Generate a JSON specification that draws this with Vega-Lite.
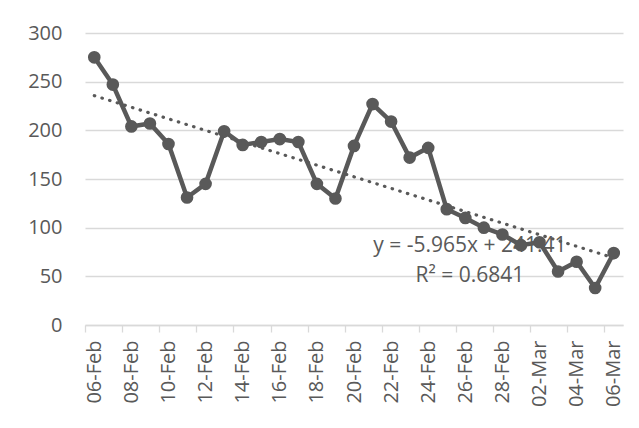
{
  "$schema": "https://vega.github.io/schema/vega-lite/v6.json",
  "width": 538,
  "height": 292,
  "autosize": "none",
  "padding": {"left": 85, "top": 33, "right": 16, "bottom": 103},
  "background": "white",
  "config": {
    "view": {"stroke": null},
    "font": "Open Sans"
  },
  "datasets": {
    "daily": [
      {"day": 1, "date": "06-Feb", "cases": 275},
      {"day": 2, "date": "07-Feb", "cases": 247},
      {"day": 3, "date": "08-Feb", "cases": 204},
      {"day": 4, "date": "09-Feb", "cases": 207},
      {"day": 5, "date": "10-Feb", "cases": 186},
      {"day": 6, "date": "11-Feb", "cases": 131},
      {"day": 7, "date": "12-Feb", "cases": 145},
      {"day": 8, "date": "13-Feb", "cases": 199},
      {"day": 9, "date": "14-Feb", "cases": 185},
      {"day": 10, "date": "15-Feb", "cases": 188},
      {"day": 11, "date": "16-Feb", "cases": 191},
      {"day": 12, "date": "17-Feb", "cases": 188},
      {"day": 13, "date": "18-Feb", "cases": 145},
      {"day": 14, "date": "19-Feb", "cases": 130},
      {"day": 15, "date": "20-Feb", "cases": 184},
      {"day": 16, "date": "21-Feb", "cases": 227},
      {"day": 17, "date": "22-Feb", "cases": 209},
      {"day": 18, "date": "23-Feb", "cases": 172},
      {"day": 19, "date": "24-Feb", "cases": 182},
      {"day": 20, "date": "25-Feb", "cases": 119},
      {"day": 21, "date": "26-Feb", "cases": 110},
      {"day": 22, "date": "27-Feb", "cases": 100},
      {"day": 23, "date": "28-Feb", "cases": 93},
      {"day": 24, "date": "01-Mar", "cases": 82},
      {"day": 25, "date": "02-Mar", "cases": 85},
      {"day": 26, "date": "03-Mar", "cases": 55},
      {"day": 27, "date": "04-Mar", "cases": 65},
      {"day": 28, "date": "05-Mar", "cases": 38},
      {"day": 29, "date": "06-Mar", "cases": 74}
    ],
    "notes": [
      {"day": 21.25, "cases": 81, "label": "y = -5.965x + 241.41"},
      {"day": 21.25, "cases": 50, "label": "R² = 0.6841"}
    ]
  },
  "encoding": {
    "x": {
      "field": "day",
      "type": "quantitative",
      "scale": {"domain": [0.5, 29.5], "nice": false, "zero": false},
      "axis": {
        "title": null,
        "values": [1, 3, 5, 7, 9, 11, 13, 15, 17, 19, 21, 23, 25, 27, 29],
        "labelExpr": "timeFormat(datetime(2021, 1, 5 + datum.value), '%d-%b')",
        "labelAngle": -90,
        "labelAlign": "right",
        "labelBaseline": "middle",
        "labelFontSize": 20,
        "labelColor": "#595959",
        "labelPadding": 8,
        "labelOffset": 9.28,
        "tickOffset": -9.28,
        "tickSize": 7,
        "tickColor": "#d9d9d9",
        "tickWidth": 1.3,
        "domainColor": "#d9d9d9",
        "domainWidth": 1.3,
        "grid": false,
        "labelFlush": false,
        "labelOverlap": false
      }
    },
    "y": {
      "field": "cases",
      "type": "quantitative",
      "scale": {"domain": [0, 300], "nice": false},
      "axis": {
        "title": null,
        "values": [0, 50, 100, 150, 200, 250, 300],
        "ticks": false,
        "domain": false,
        "labelFontSize": 20,
        "labelColor": "#595959",
        "labelPadding": 23,
        "gridColor": "#d9d9d9",
        "gridWidth": 1.3
      }
    }
  },
  "layer": [
    {
      "data": {"name": "daily"},
      "mark": {"type": "line", "color": "#595959", "strokeWidth": 4.5},
      "encoding": {}
    },
    {
      "data": {"name": "daily"},
      "mark": {"type": "point", "filled": true, "shape": "circle", "size": 160, "color": "#595959", "opacity": 1},
      "encoding": {}
    },
    {
      "data": {"name": "daily"},
      "transform": [{"regression": "cases", "on": "day"}],
      "mark": {"type": "line", "color": "#595959", "strokeWidth": 3.2, "strokeDash": [0.5, 7.5], "strokeCap": "round"},
      "encoding": {}
    },
    {
      "data": {"name": "notes"},
      "mark": {"type": "text", "fontSize": 21, "color": "#595959", "align": "center", "baseline": "middle"},
      "encoding": {"text": {"field": "label"}}
    }
  ]
}
